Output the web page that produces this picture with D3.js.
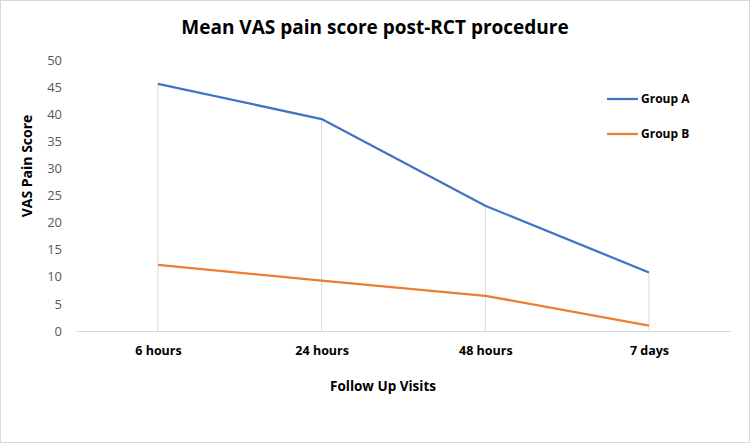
<!DOCTYPE html>
<html><head><meta charset="utf-8">
<script src="https://cdn.jsdelivr.net/npm/d3@7"></script>
<style>body{margin:0;background:#fff}svg{display:block}</style>
</head><body>
<svg id="c" width="750" height="443"></svg>
<script>
const categories = ["6 hours", "24 hours", "48 hours", "7 days"];
const groupA = [45.6, 39.1, 23.1, 10.8];
const groupB = [12.2, 9.3, 6.5, 1.0];
const seriesNames = ["Group A", "Group B"];
const yTicks = [0, 5, 10, 15, 20, 25, 30, 35, 40, 45, 50];

const svg = d3.select("#c");
const W = 750, H = 443;
const font = "'Open Sans', 'Liberation Sans', sans-serif";
svg.append("rect").attr("x", 0.5).attr("y", 0.5).attr("width", W - 1).attr("height", H - 1)
  .attr("fill", "#fff").attr("stroke", "#d9d9d9");

const x = d3.scalePoint().domain(categories).range([158, 649]);
const y = d3.scaleLinear().domain([0, 50]).range([331, 60]);

// drop lines
const maxVals = categories.map((c, i) => Math.max(groupA[i], groupB[i]));
svg.append("g").selectAll("line").data(categories).join("line")
  .attr("x1", d => x(d)).attr("x2", d => x(d))
  .attr("y1", (d, i) => y(maxVals[i])).attr("y2", y(0))
  .attr("stroke", "#d9d9d9").attr("stroke-width", 1);

// x axis line
svg.append("line").attr("x1", 76).attr("x2", 731).attr("y1", y(0) + 0.5).attr("y2", y(0) + 0.5)
  .attr("stroke", "#d9d9d9").attr("stroke-width", 1);

// y tick labels
const yAxis = d3.axisLeft(y).tickValues(yTicks).tickSize(0).tickPadding(0);
const gy = svg.append("g").attr("transform", "translate(62,0)").call(yAxis);
gy.select(".domain").remove();
gy.selectAll("text").attr("font-family", font).attr("font-size", 13).attr("fill", "#595959");

// x tick labels
const xAxis = d3.axisBottom(x).tickSize(0).tickPadding(0);
const gx = svg.append("g").attr("transform", "translate(0,346)").call(xAxis);
gx.select(".domain").remove();
gx.selectAll("text").attr("font-family", font).attr("font-size", 12.5).attr("font-weight", "bold").attr("fill", "#000");

// lines
const colors = ["#4472C4", "#ED7D31"];
const line = d3.line().x((d, i) => x(categories[i])).y(d => y(d));
[groupA, groupB].forEach((s, k) => {
  svg.append("path").datum(s).attr("d", line).attr("fill", "none")
    .attr("stroke", colors[k]).attr("stroke-width", 2.25).attr("stroke-linejoin", "round");
});

// legend
seriesNames.forEach((n, k) => {
  const ly = 99 + k * 35;
  svg.append("line").attr("x1", 607).attr("x2", 638).attr("y1", ly).attr("y2", ly)
    .attr("stroke", colors[k]).attr("stroke-width", 2.25);
  svg.append("text").attr("x", 641).attr("y", ly).attr("dy", "0.35em").text(n)
    .attr("font-family", font).attr("font-size", 12).attr("font-weight", "bold").attr("fill", "#000");
});

// title
svg.append("text").attr("x", 375).attr("y", 27.5).attr("dy", "0.35em").attr("text-anchor", "middle")
  .text("Mean VAS pain score post-RCT procedure")
  .attr("font-family", font).attr("font-size", 19).attr("font-weight", "bold").attr("fill", "#000");

// axis titles
svg.append("text").attr("transform", "translate(27,166) rotate(-90)").attr("dy", "0.35em")
  .attr("text-anchor", "middle").text("VAS Pain Score")
  .attr("font-family", font).attr("font-size", 14).attr("font-weight", "bold").attr("fill", "#000");
svg.append("text").attr("x", 383).attr("y", 386).attr("dy", "0.35em").attr("text-anchor", "middle")
  .text("Follow Up Visits")
  .attr("font-family", font).attr("font-size", 13.5).attr("font-weight", "bold").attr("fill", "#000");
</script>
</body></html>
